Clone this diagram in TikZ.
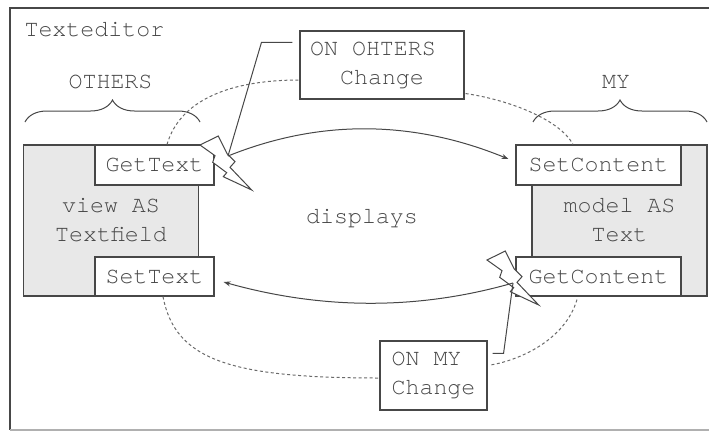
\documentclass[tikz,border=0pt]{standalone}
\usepackage{fontspec}
\setmainfont{TeX Gyre Cursor}
\usetikzlibrary{arrows.meta,decorations.pathreplacing}
\definecolor{ink}{HTML}{474747}
\definecolor{pane}{HTML}{E8E8E8}
\definecolor{rim}{HTML}{B0B0B0}
\definecolor{hint}{HTML}{6A6A6A}
\begin{document}
\begin{tikzpicture}[x=1pt,y=-1pt,
  every node/.style={font=\fontsize{23.3}{29}\selectfont, text=ink},
  line/.style={draw=ink, line width=1pt},
  pane/.style={draw=ink, line width=1.1pt, fill=pane, minimum width=175pt,
    minimum height=151pt, align=center, inner sep=0pt},
  port/.style={draw=ink, line width=1.1pt, fill=white, minimum height=40pt, inner sep=0pt},
  event/.style={draw=ink, line width=1.1pt, fill=white, inner sep=0pt},
  flow/.style={draw=ink, line width=1pt, -{Stealth[length=7pt,width=5pt]}},
  reach/.style={draw=hint, line width=1pt, dash pattern=on 3pt off 2.5pt},
  grouping/.style={draw=ink, line width=1pt, decorate, decoration={brace, amplitude=22pt}},
  bolt/.pic={\path[draw=ink, line width=1pt, fill=white, line join=miter]
    (0,0) -- (18.3,-9) -- (27.3,9) -- (35,16.7) -- (30,22.3) -- (51.7,45)
    -- (23.3,31.7) -- (26.7,27.7) -- (12.7,17.3) -- (15,10.7) -- cycle;}
  ]
\useasboundingbox (0,0) rectangle (709,431);

% editor frame
\draw[draw=ink, line width=2.4pt] (720,8) -- (10,8) -- (10,430);
\draw[draw=rim, line width=1.5pt] (10,430) -- (720,430);

% labels
\node[anchor=base west] (title) at (21,36.7) {Texteditor};
\node[anchor=base] (others) at (110.5,88) {OTHERS};
\node[anchor=base] (my) at (616,88) {MY};
\node[anchor=base] (displays) at (362,223) {displays};

% braces
\draw[grouping] (25,122) -- (200,122);
\draw[grouping] (533,122) -- (707,122);

% view and model panes
\node[pane] (view) at (111,220.5) {view AS\\Textfield};
\node[pane] (model) at (619.5,220.5) {model AS\\Text};

\node[port, minimum width=119pt] (gettext) at (154.5,165) {GetText};
\node[port, minimum width=119pt, minimum height=39pt] (settext) at (154.5,276.5) {SetText};
\node[port, minimum width=165pt] (setcontent) at (598.5,165) {SetContent};
\node[port, minimum width=165pt, minimum height=39pt] (getcontent) at (598.5,276.5) {GetContent};

% change events
\node[event, minimum width=164pt, minimum height=68pt, align=center] (onothers) at (382,65) {ON OHTERS\hspace*{18pt}\\Change};
\node[event, minimum width=107pt, minimum height=69pt, align=left] (onmy) at (433.5,375.5) {ON MY\\Change};

% sparks
\pic at (200,145) {bolt};
\pic at (487,260) {bolt};
\coordinate (spark1) at (228,156);
\coordinate (spark2) at (513,283);

% event scopes
\draw[reach] ([xshift=12.5pt]gettext.north) .. controls (180,100) and (230,80) .. ([yshift=-15pt]onothers.west);
\draw[reach] ([shift={(1pt,6pt)}]onothers.south east) .. controls (510,100) and (560,120) .. ([xshift=-25.5pt]setcontent.north);
\draw[reach] ([xshift=8.5pt]settext.south) .. controls (175,360) and (230,378) .. ([yshift=-2.5pt]onmy.west);
\draw[reach] ([shift={(-21.5pt,-3pt)}]getcontent.south) .. controls (565,340) and (520,360) .. ([shift={(3pt,10.5pt)}]onmy.east);

% event triggers
\draw[line] ([shift={(-7pt,-12pt)}]onothers.north west) -- ++(-31,0) -- (spark1);
\draw[line] ([shift={(5pt,-13pt)}]onmy.north east) -- ++(11,0) -- (spark2);

% data flow
\draw[flow] (spark1) .. controls (320,119) and (413,120) .. ([shift={(-7pt,6pt)}]setcontent.west);
\draw[flow] (spark2) .. controls (419,310) and (323,310) .. ([shift={(9pt,-5.5pt)}]settext.east);
\end{tikzpicture}
\end{document}
